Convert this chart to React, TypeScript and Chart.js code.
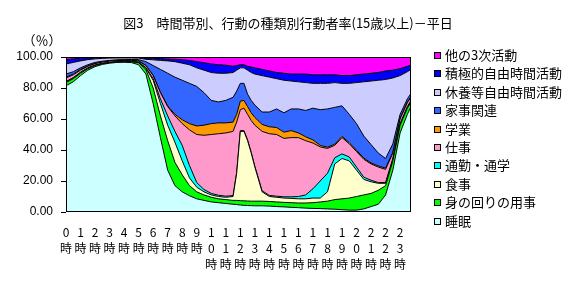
import React, { useEffect, useRef } from "react";
import { Chart, registerables } from "chart.js";

Chart.register(...registerables);

// time of day in hours (slot start)
const times = [0, 0.5, 1, 1.5, 2, 2.5, 3, 3.5, 4, 4.5, 5, 5.5, 6, 6.5, 7, 7.5, 8, 8.5, 9, 9.5, 10, 10.5, 11, 11.5, 11.75, 12, 12.25, 12.5, 12.75, 13, 13.5, 14, 14.5, 15, 15.5, 16, 16.5, 17, 17.5, 18, 18.5, 19, 19.5, 20, 20.5, 21, 21.5, 22, 22.5, 23, 23.5, 23.75];

const sleep = [81.5, 84, 88, 91.5, 93.8, 95.2, 96, 96.5, 96.6, 96.4, 95, 89, 70, 48, 27, 17, 13, 10.5, 8.5, 7.5, 6.5, 6, 5.5, 5, 4.8, 4.5, 4.3, 4.2, 4.1, 4, 4, 3.8, 3.5, 3.3, 3, 2.8, 2.5, 2.3, 2.2, 2, 1.8, 1.5, 1.2, 1.2, 2, 3.5, 5, 11, 27, 51, 63, 68];
const selfCare = [2, 2, 1.5, 1, 0.7, 0.5, 0.3, 0.3, 0.3, 0.5, 1.3, 3, 10, 14, 19, 15, 11, 6.5, 4.5, 3.5, 3, 2.5, 2.5, 2.5, 2.7, 2.8, 2.9, 2.9, 2.9, 3, 3, 3, 3, 2.9, 3, 3, 3.3, 3.7, 4.3, 5, 6.2, 7, 7.8, 8.8, 9, 8.5, 9, 6, 6, 5, 4, 3];
const meals = [0.5, 0.5, 0.5, 0.3, 0.2, 0.1, 0.1, 0.1, 0.1, 0.1, 0.2, 0.8, 5, 8, 10, 13, 9, 5, 3, 2, 1.5, 1.5, 1.5, 2.5, 17.5, 44.7, 44.8, 38.9, 31, 22, 6, 3.2, 3, 2.8, 2.8, 2.7, 2.7, 3, 2.5, 6, 23, 26, 24, 17, 10, 7.5, 4.5, 1.5, 1, 0.5, 0.5, 0.5];
const commute = [0.2, 0.2, 0.2, 0.2, 0.1, 0.1, 0.1, 0.1, 0.1, 0.1, 0.1, 0.4, 1, 3, 6, 7, 10, 8, 3, 1.5, 1, 0.8, 0.7, 0.6, 0.5, 0.5, 0.5, 0.5, 0.5, 0.5, 0.7, 0.7, 0.7, 0.8, 1, 1.5, 2.5, 6, 11, 12, 4, 3, 2.5, 2, 1.5, 1, 0.5, 0.5, 0.5, 0.5, 0.5, 0.5];
const work = [2.3, 1.8, 1.3, 1, 0.9, 0.8, 0.8, 0.7, 0.7, 0.7, 0.7, 1.3, 2, 4, 6, 10, 14, 23, 31, 35, 38, 39.7, 40.8, 41.4, 32.5, 13.5, 14.5, 16.5, 20.5, 26.5, 38.3, 39.8, 39.8, 37.7, 38.2, 38, 35, 29.5, 22, 16, 8, 10.5, 8.5, 10, 11.5, 10.5, 10, 8.5, 3.5, 3, 2.5, 2];
const school = [0.5, 0.5, 0.5, 0.3, 0.2, 0.1, 0.1, 0.1, 0.1, 0.1, 0.1, 0.1, 0.3, 0.3, 0.5, 1, 2.5, 4, 5.5, 6.5, 7, 7, 6.5, 6, 5, 5.5, 5, 5, 5, 5, 4.5, 4.5, 4.5, 4, 4.5, 3, 2.5, 2, 1, 0.8, 0.8, 0.8, 0.8, 0.8, 0.8, 0.7, 0.7, 0.8, 0.5, 0.5, 0.5, 0.5];
const housework = [2, 1.5, 1, 0.7, 0.6, 0.5, 0.4, 0.4, 0.4, 0.5, 0.9, 2.4, 6.2, 14.7, 21, 24, 25.5, 26, 25.5, 21, 15, 13.5, 14.5, 16, 15, 11.5, 11, 8, 8, 8, 8, 9.5, 12, 12.5, 14, 15.5, 17, 20.5, 23, 24.7, 23.7, 19.7, 18.2, 17.2, 14.2, 11.8, 8.3, 6.2, 5.5, 2.5, 2, 2];
const rest = [6.5, 6, 4.5, 3.3, 2.3, 1.8, 1.5, 1.2, 1.1, 1, 1, 1.5, 3.7, 5.8, 8, 10, 11, 12, 12, 14.5, 18, 18.5, 17.5, 16, 13.5, 10, 10, 15.5, 18, 20, 23.5, 22.5, 19.5, 21, 18, 17.5, 18, 16, 17, 16.5, 16, 14.5, 20, 26.5, 35, 41, 47, 51, 42.5, 25, 17.5, 15.5];
const active = [2.8, 2.3, 1.7, 1.1, 0.8, 0.6, 0.5, 0.4, 0.4, 0.4, 0.4, 0.8, 1, 1.2, 1.2, 1.5, 2.3, 2.7, 4, 4.8, 5.5, 5.5, 5.2, 4, 3, 2, 2, 2.5, 3.5, 4, 4, 4, 4, 4.5, 4.5, 5, 5.5, 5.5, 5.5, 5.5, 5, 5, 5, 5, 5, 5, 5, 5.5, 5, 4.5, 3.5, 3];
const other = [1.7, 1.2, 0.8, 0.6, 0.4, 0.3, 0.2, 0.2, 0.2, 0.2, 0.3, 0.7, 0.8, 1, 1.3, 1.5, 1.7, 2.3, 3, 3.7, 4.5, 5, 5.3, 6, 5.5, 5, 5, 6, 6.5, 7, 8, 9, 10, 10.5, 11, 11, 11, 11.5, 11.5, 11.5, 11.5, 12, 12, 11.5, 11, 10.5, 10, 9, 8.5, 7.5, 6, 5];

const seriesNames = ["睡眠", "身の回りの用事", "食事", "通勤・通学", "仕事", "学業", "家事関連", "休養等自由時間活動", "積極的自由時間活動", "他の3次活動"];
const seriesValues = [sleep, selfCare, meals, commute, work, school, housework, rest, active, other];
const seriesColors = ["#CCFFFF", "#00FF00", "#FFFFCC", "#00FFFF", "#FF99CC", "#FF9900", "#3366FF", "#CCCCFF", "#0000FF", "#FF00FF"];

const hourLabels = ["0時", "1時", "2時", "3時", "4時", "5時", "6時", "7時", "8時", "9時", "10時", "11時", "12時", "13時", "14時", "15時", "16時", "17時", "18時", "19時", "20時", "21時", "22時", "23時"];
const yTicks = [0, 10, 20, 30, 40, 50, 60, 70, 80, 90, 100];

const titleText = "図3　時間帯別、行動の種類別行動者率(15歳以上)－平日";
const unitText = "（％）";

const JP = "'Noto Sans CJK JP', sans-serif";

const decorPlugin = {
  id: "decor",
  afterDatasetsDraw(chart: any) {
    const { ctx, chartArea: a } = chart;
    ctx.save();
    ctx.strokeStyle = "#000";
    ctx.lineWidth = 1;
    const l = Math.round(a.left) + 0.5;
    const t = Math.round(a.top) + 0.5;
    const r = Math.round(a.right) - 0.5;
    const b = Math.round(a.bottom) - 0.5;
    ctx.strokeRect(l, t, r - l, b - t);
    ctx.restore();
  },
  afterDraw(chart: any) {
    const { ctx } = chart;
    ctx.save();
    ctx.fillStyle = "#000";
    ctx.textBaseline = "middle";
    ctx.font = `13px ${JP}`;
    ctx.textAlign = "center";
    ctx.fillText(titleText, 288, 23);
    ctx.fillText(unitText, 42, 40);
    // legend (top item = last series)
    ctx.textAlign = "left";
    for (let k = 0; k < seriesNames.length; k++) {
      const i = seriesNames.length - 1 - k;
      const y = Math.round(55 + k * 18.4);
      ctx.fillStyle = seriesColors[i];
      ctx.fillRect(434, y - 3, 7, 7);
      ctx.strokeStyle = "#000";
      ctx.lineWidth = 1;
      ctx.strokeRect(434.5, y - 2.5, 6, 6);
      ctx.fillStyle = "#000";
      ctx.fillText(seriesNames[i], 445, y + 0.5);
    }
    ctx.restore();
  },
};

export default function App() {
  const ref = useRef<HTMLCanvasElement | null>(null);

  useEffect(() => {
    if (!ref.current) return;
    const datasets = seriesValues.map((vals, i) => ({
      label: seriesNames[i],
      data: times.map((t, j) => ({ x: t, y: vals[j] })),
      backgroundColor: seriesColors[i],
      borderColor: "#000",
      borderWidth: 1,
      pointRadius: 0,
      tension: 0,
      fill: i === 0 ? "origin" : "-1",
    }));
    const chart = new Chart(ref.current, {
      type: "line",
      data: { datasets },
      plugins: [decorPlugin],
      options: {
        animation: false,
        responsive: false,
        devicePixelRatio: 1,
        layout: { padding: { top: 57, right: 165, left: 0, bottom: 0 } },
        plugins: {
          legend: { display: false },
          title: { display: false },
          tooltip: { enabled: false },
        },
        scales: {
          x: {
            type: "linear",
            min: 0,
            max: 23.75,
            afterBuildTicks: (s: any) => {
              s.ticks = hourLabels.map((_, i) => ({ value: i }));
            },
            afterFit: (s: any) => {
              s.height = 75;
            },
            ticks: {
              autoSkip: false,
              maxRotation: 0,
              minRotation: 0,
              padding: 12,
              color: "#000",
              font: { family: JP, size: 12, lineHeight: 1.35 },
              callback: (_v: any, i: number) => hourLabels[i].split(""),
            },
            grid: { display: false, drawTicks: false },
            border: { display: false },
          },
          y: {
            stacked: true,
            min: 0,
            max: 100,
            afterBuildTicks: (s: any) => {
              s.ticks = yTicks.map((v) => ({ value: v }));
            },
            afterFit: (s: any) => {
              s.width = 66;
            },
            ticks: {
              padding: 8,
              color: "#000",
              font: { family: "'Liberation Sans', Arial, sans-serif", size: 12 },
              callback: (v: any) => Number(v).toFixed(2),
            },
            grid: { drawOnChartArea: false, drawTicks: true, tickLength: 5, color: "#000" },
            border: { display: false },
          },
        },
      },
    } as any);
    return () => chart.destroy();
  }, []);

  return (
    <div style={{ position: "fixed", left: 0, top: 0, width: 576, height: 287, background: "#fff" }}>
      <canvas ref={ref} width={576} height={287} />
    </div>
  );
}
